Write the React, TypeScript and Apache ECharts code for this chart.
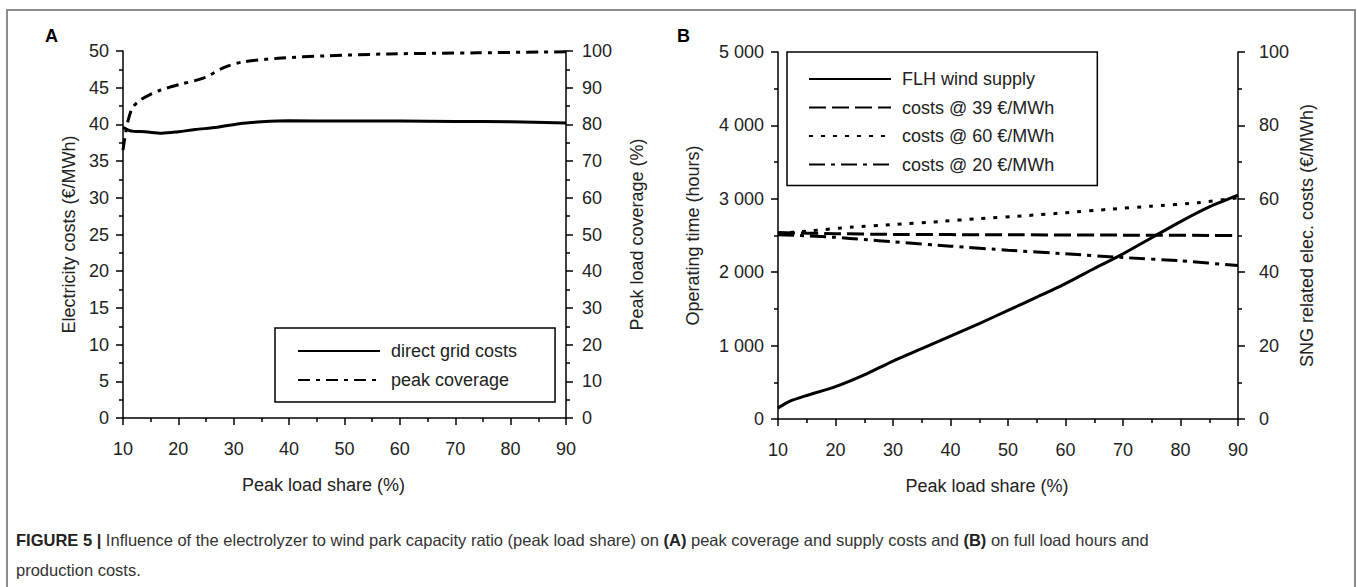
import React, { useEffect, useRef } from "react";
import * as echarts from "echarts";

// ---------- Data ----------
// Panel A
const gridCostShare = [10, 11, 12, 14, 17, 20, 23, 27, 31, 35, 40, 50, 60, 70, 80, 90];
const gridCostValues = [39.6, 39.2, 39.05, 39.0, 38.8, 39.0, 39.3, 39.6, 40.1, 40.35, 40.5, 40.45, 40.45, 40.4, 40.35, 40.2];
const coverageShare = [10, 10.5, 11, 11.7, 13, 14.7, 16.7, 20, 24.5, 28.4, 31.6, 38, 47, 58, 74, 90];
const coverageValues = [73, 78, 81.5, 84.5, 86.5, 88, 89.3, 90.8, 92.6, 95.6, 97, 98, 98.7, 99.2, 99.5, 99.8];

// Panel B
const flhShare = [10, 12, 15, 20, 25, 30, 35, 40, 45, 50, 55, 60, 65, 70, 75, 80, 85, 90];
const flhHours = [150, 240, 320, 440, 600, 790, 960, 1130, 1300, 1480, 1660, 1845, 2050, 2250, 2470, 2690, 2890, 3050];
const cost39Share = [10, 20, 30, 50, 70, 90];
const cost39Values = [50.8, 50.5, 50.3, 50.2, 50.1, 50.0];
const cost60Share = [10, 15, 23, 30, 38, 45, 53, 60, 68, 75, 83, 90];
const cost60Values = [50.6, 51.2, 52.3, 53.0, 53.8, 54.6, 55.4, 56.2, 57.2, 58.0, 58.9, 60.3];
const cost20Share = [10, 15, 20, 25, 30, 40, 50, 60, 70, 80, 90];
const cost20Values = [50.2, 49.9, 49.5, 48.9, 48.3, 47.1, 46.0, 45.0, 44.0, 43.1, 41.8];

const seriesNamesA = ["direct grid costs", "peak coverage"];
const seriesNamesB = ["FLH wind supply", "costs @ 39 €/MWh", "costs @ 60 €/MWh", "costs @ 20 €/MWh"];

const FONT = "'Liberation Sans', Arial, Helvetica, sans-serif";
const TXT = "#222";

const pairs = (xs: number[], ys: number[]) => xs.map((x, i) => [x, ys[i]]);

function xAxisFor(gridIndex: number) {
  return {
    type: "value",
    gridIndex,
    min: 10,
    max: 90,
    interval: 10,
    name: "Peak load share (%)",
    nameLocation: "middle",
    nameGap: 58,
    nameTextStyle: { fontSize: 18, color: TXT, fontFamily: FONT, padding: [0, 42, 0, 0] },
    axisLine: { show: true, onZero: false, lineStyle: { color: "#000", width: 1.5 } },
    axisTick: { show: true, length: 7, lineStyle: { color: "#000", width: 1.5 } },
    minorTick: { show: true, splitNumber: 2, length: 4, lineStyle: { color: "#000", width: 1.5 } },
    splitLine: { show: false },
    axisLabel: { fontSize: 18, color: TXT, fontFamily: FONT, margin: 22 },
  };
}

function yAxisFor(opts: any) {
  return {
    type: "value",
    nameLocation: "middle",
    nameRotate: 90,
    nameTextStyle: { fontSize: 18, color: TXT, fontFamily: FONT },
    axisLine: { show: true, onZero: false, lineStyle: { color: "#000", width: 1.5 } },
    axisTick: { show: true, length: 7, lineStyle: { color: "#000", width: 1.5 } },
    minorTick: { show: true, splitNumber: 2, length: 4, lineStyle: { color: "#000", width: 1.5 } },
    splitLine: { show: false },
    ...opts,
    axisLabel: { fontSize: 18, color: TXT, fontFamily: FONT, ...(opts.axisLabel || {}) },
  };
}

function lineSeries(name: string, xAxisIndex: number, yAxisIndex: number, data: number[][], type: any, smooth: number) {
  return {
    type: "line",
    name,
    xAxisIndex,
    yAxisIndex,
    data,
    smooth,
    symbol: "none",
    showSymbol: false,
    lineStyle: { color: "#000", width: 3, type, cap: "butt" },
    itemStyle: { color: "#000" },
  };
}

export default function App() {
  const ref = useRef<HTMLDivElement>(null);

  useEffect(() => {
    if (!ref.current) return;
    const chart = echarts.init(ref.current, undefined, { renderer: "svg" });

    const legendCommon = {
      orient: "vertical",
      itemWidth: 82,
      itemHeight: 18,
      itemGap: 11,
      borderColor: "#000",
      borderWidth: 1.5,
      borderRadius: 0,
      itemStyle: { opacity: 0 },
      textStyle: { fontSize: 18, color: TXT, fontFamily: FONT, lineHeight: 18, padding: [0, 0, 0, 6] },
      selectedMode: false,
    };

    const option: any = {
      animation: false,
      backgroundColor: "#fff",
      textStyle: { fontFamily: FONT },
      grid: [
        { left: 123, top: 51, width: 443, height: 367 },
        { left: 778, top: 52, width: 460, height: 367 },
      ],
      xAxis: [xAxisFor(0), xAxisFor(1)],
      yAxis: [
        yAxisFor({
          gridIndex: 0, min: 0, max: 50, interval: 5, position: "left",
          name: "Electricity costs (€/MWh)", nameGap: 45,
          axisLabel: { margin: 14 },
        }),
        yAxisFor({
          gridIndex: 0, min: 0, max: 100, interval: 10, position: "right",
          name: "Peak load coverage (%)", nameGap: 62,
          axisLabel: { margin: 16 },
        }),
        yAxisFor({
          gridIndex: 1, min: 0, max: 5000, interval: 1000, position: "left",
          name: "Operating time (hours)", nameGap: 76,
          axisLabel: { margin: 14, formatter: (v: number) => (v >= 1000 ? `${Math.floor(v / 1000)} ${String(v % 1000).padStart(3, "0")}` : String(v)) },
        }),
        yAxisFor({
          gridIndex: 1, min: 0, max: 100, interval: 20, position: "right",
          name: "SNG related elec. costs (€/MWh)", nameGap: 60,
          axisLabel: { margin: 21 },
        }),
      ],
      legend: [
        {
          ...legendCommon,
          data: seriesNamesA,
          left: 275,
          top: 328,
          padding: [14, 38, 13, 22],
        },
        {
          ...legendCommon,
          data: seriesNamesB,
          left: 787,
          top: 52,
          itemGap: 10.5,
          padding: [18, 43, 12, 21],
        },
      ],
      series: [
        lineSeries(seriesNamesA[0], 0, 0, pairs(gridCostShare, gridCostValues), "solid", 0.3),
        lineSeries(seriesNamesA[1], 0, 1, pairs(coverageShare, coverageValues), [12, 6, 4, 6], 0.3),
        lineSeries(seriesNamesB[0], 1, 2, pairs(flhShare, flhHours), "solid", 0.25),
        lineSeries(seriesNamesB[1], 1, 3, pairs(cost39Share, cost39Values), [17, 6], 0.2),
        lineSeries(seriesNamesB[2], 1, 3, pairs(cost60Share, cost60Values), [4, 8], 0.2),
        lineSeries(seriesNamesB[3], 1, 3, pairs(cost20Share, cost20Values), [16, 6, 4, 6], 0.2),
      ],
      graphic: [
        {
          type: "rect",
          shape: { x: 7, y: 10, width: 1348, height: 620 },
          style: { fill: "none", stroke: "#8c8c8c", lineWidth: 2 },
          silent: true,
          z: -1,
        },
        {
          type: "text", x: 45, y: 36,
          style: { text: "A", fill: "#000", font: `bold 18px ${FONT}`, verticalAlign: "middle" },
        },
        {
          type: "text", x: 677, y: 36,
          style: { text: "B", fill: "#000", font: `bold 18px ${FONT}`, verticalAlign: "middle" },
        },
        {
          type: "text", x: 16, y: 540,
          style: {
            text: "{b|FIGURE 5 |} Influence of the electrolyzer to wind park capacity ratio (peak load share) on {b|(A)} peak coverage and supply costs and {b|(B)} on full load hours and",
            fontSize: 16.5, fontFamily: FONT, fill: "#333", verticalAlign: "middle",
            rich: { b: { fontWeight: "bold", fontSize: 16.5, fontFamily: FONT, fill: "#222" } },
          },
        },
        {
          type: "text", x: 16, y: 570,
          style: { text: "production costs.", fontSize: 16.5, fontFamily: FONT, fill: "#333", verticalAlign: "middle" },
        },
      ],
    };

    chart.setOption(option);
    return () => chart.dispose();
  }, []);

  return <div ref={ref} style={{ position: "fixed", left: 0, top: 0, width: 1357, height: 587 }} />;
}
